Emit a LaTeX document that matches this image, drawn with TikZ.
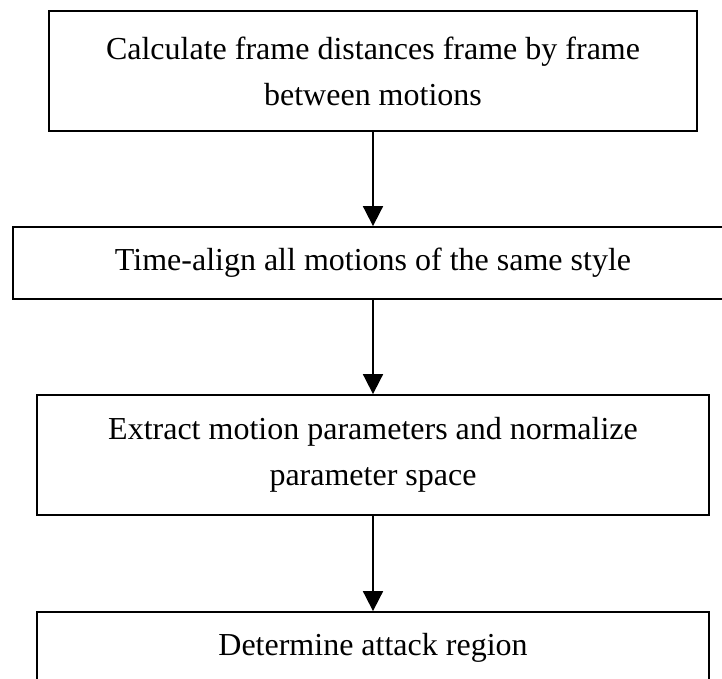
\documentclass[tikz,border=0pt]{standalone}
\usepackage{fontspec}
\setmainfont{Liberation Serif}
\usetikzlibrary{arrows.meta}
\begin{document}
\begin{tikzpicture}[x=1pt,y=-1pt,
  stepbox/.style={draw=black,line width=1.8pt,rectangle,inner sep=0pt,
    align=center,font=\fontsize{32}{46}\selectfont},
  flow/.style={line width=1.8pt,-{Triangle[width=20pt,length=20pt]}}]
\clip (0,0) rectangle (722,679);
\fill[white] (0,0) rectangle (722,679);
\node[stepbox,minimum width=648pt,minimum height=120pt] (calc) at (373,71)
  {Calculate frame distances frame by frame\\between motions};
\node[stepbox,minimum width=720pt,minimum height=72pt] (align) at (373,263)
  {Time-align all motions of the same style};
\node[stepbox,minimum width=672pt,minimum height=120pt] (extract) at (373,455)
  {Extract motion parameters and normalize\\parameter space};
\node[stepbox,minimum width=672pt,minimum height=72pt] (attack) at (373,648)
  {Determine attack region};
\draw[flow] (calc.south) -- (align.north);
\draw[flow] (align.south) -- (extract.north);
\draw[flow] (extract.south) -- (attack.north);
\end{tikzpicture}
\end{document}
